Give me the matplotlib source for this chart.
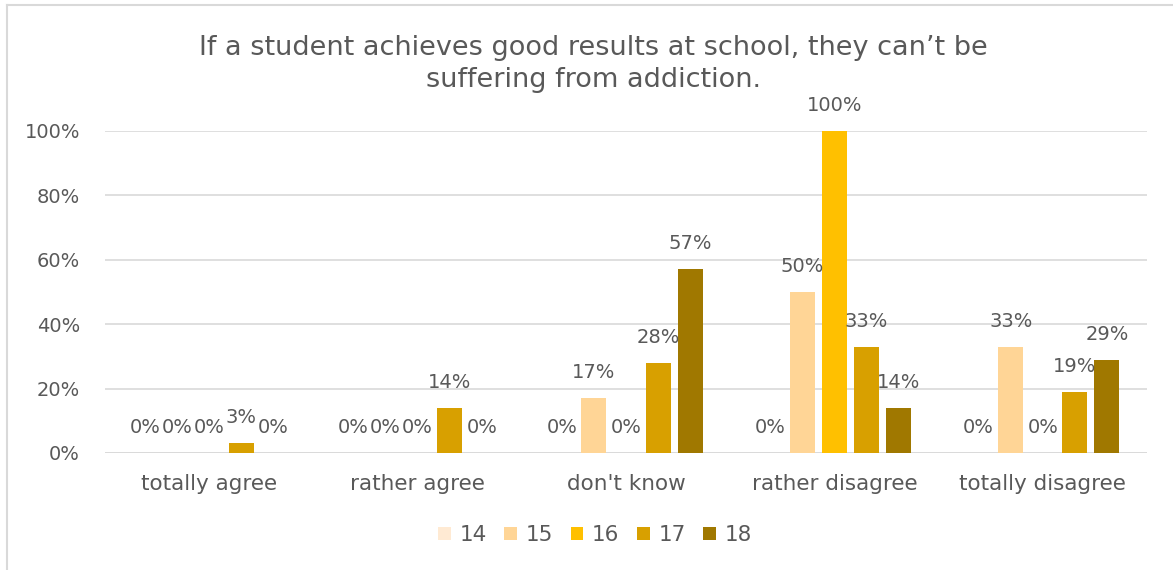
import matplotlib
matplotlib.use("Agg")
import matplotlib.pyplot as plt
from matplotlib.lines import Line2D
from matplotlib.patches import Patch
import numpy as np

categories = ["totally agree", "rather agree", "don't know", "rather disagree", "totally disagree"]
series_names = ["14", "15", "16", "17", "18"]
values_14 = [0, 0, 0, 0, 0]
values_15 = [0, 0, 17, 50, 33]
values_16 = [0, 0, 0, 100, 0]
values_17 = [3, 14, 28, 33, 19]
values_18 = [0, 0, 57, 14, 29]
series_values = [values_14, values_15, values_16, values_17, values_18]
colors = ["#FFEAD3", "#FFD596", "#FFC000", "#D8A000", "#A07800"]
title = "If a student achieves good results at school, they can\u2019t be\nsuffering from addiction."

plt.rcParams['font.family'] = ['DejaVu Sans']
txt = "#595959"
fs_num = 14
fs_cat = 15.5

fig = plt.figure(figsize=(11.73, 5.70), dpi=100)
ax = fig.add_axes([105/1173, 1-453/570, (1147-105)/1173, (453-131)/570])

x = np.arange(len(categories))
step = 0.154
width = 0.12
for i, (name, vals, c) in enumerate(zip(series_names, series_values, colors)):
    pos = x + (i - 2) * step
    fr = [v / 100 for v in vals]
    ax.bar(pos, fr, width=width, color=c, zorder=3, label=name)
    for p, v in zip(pos, vals):
        ax.annotate(f"{v}%", (p, v / 100), xytext=(0, 16), textcoords='offset pixels',
                    ha='center', va='bottom', fontsize=fs_num, color=txt, zorder=4)

ax.set_xlim(-0.5, len(categories) - 0.5)
ax.set_ylim(0, 1.0)
ax.set_yticks(np.arange(0, 1.01, 0.2))
ax.set_yticklabels([f"{int(round(t*100))}%" for t in np.arange(0, 1.01, 0.2)])
ax.set_xticks(x)
ax.set_xticklabels(categories)
ax.tick_params(axis='both', length=0, colors=txt)
ax.tick_params(axis='y', pad=18, labelsize=fs_num)
ax.tick_params(axis='x', pad=15, labelsize=fs_cat)
ax.grid(axis='y', color='#D9D9D9', linewidth=1.2, zorder=0)
for s in ax.spines.values():
    s.set_visible(False)
ax.axhline(0, color='#D9D9D9', linewidth=1.2, zorder=2)

fig.text(593/1173, 1-64/570, title, ha='center', va='center', fontsize=19.5,
         color=txt, linespacing=1.3)

handles = [Patch(facecolor=c, edgecolor='none') for c in colors]
fig.legend(handles, series_names, loc='center', bbox_to_anchor=(595/1173, 1-535/570),
           ncol=5, frameon=False, fontsize=fs_cat, labelcolor=txt, handlelength=0.6,
           handleheight=0.6, handletextpad=0.4, columnspacing=0.8)

# chart border (left and top visible)
fig.add_artist(Line2D([7/1173, 7/1173], [0, 1-5/570], color='#D9D9D9', linewidth=1.5))
fig.add_artist(Line2D([7/1173, 1], [1-5/570, 1-5/570], color='#D9D9D9', linewidth=1.5))

fig.savefig("out.png", dpi=100)
